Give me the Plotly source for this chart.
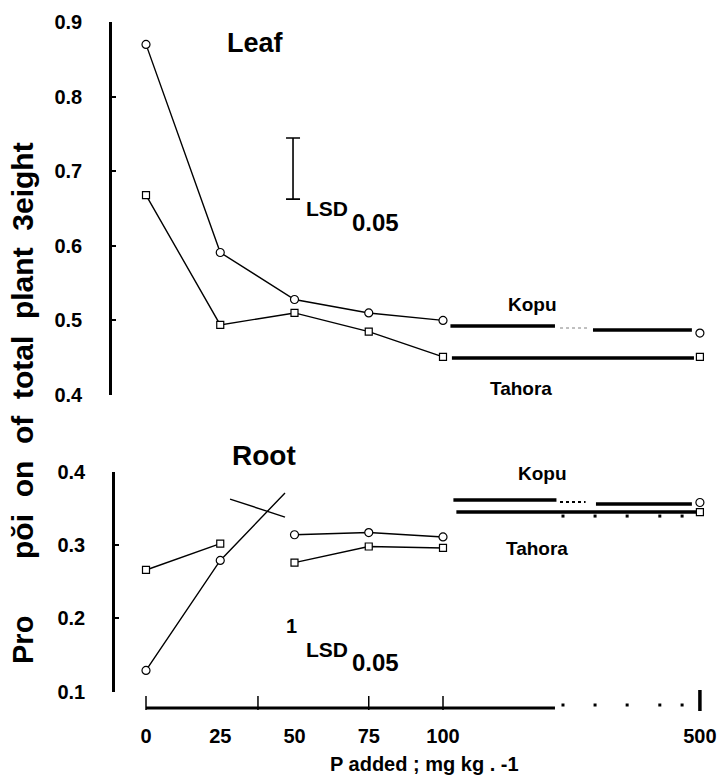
import plotly.graph_objects as go

W, H = 723, 781
FONT = "Liberation Sans, Arial, sans-serif"

# ---------------- data ----------------
p_levels = ["0", "25", "50", "75", "100", "500"]
x_pos = [0, 25, 50, 75, 100, 186.5]          # axis position of each P level (500 sits after the axis break)

leaf_kopu = [0.870, 0.591, 0.528, 0.510, 0.500, 0.483]
leaf_tahora = [0.668, 0.494, 0.510, 0.485, 0.451, 0.451]
root_kopu = [0.129, 0.279, 0.314, 0.317, 0.311, 0.358]
root_tahora = [0.266, 0.302, 0.276, 0.298, 0.296, 0.345]

# plateau levels drawn from 100 to 500 (before / after the break)
leaf_kopu_plateau = [0.4925, 0.4871]
leaf_tahora_plateau = [0.4496, 0.4496]
root_kopu_plateau = [0.3614, 0.3559]
root_tahora_plateau = [0.345, 0.345]

leaf_lsd_centre = 0.7036
leaf_lsd = 0.082

# stray strokes in the root panel (as printed)
root_kopu_overshoot = [46.8, 0.371]
root_stray_x = [28.3, 46.8]
root_stray_y = [0.3627, 0.338]

leaf_ticks = [0.4, 0.5, 0.6, 0.7, 0.8, 0.9]
root_ticks = [0.1, 0.2, 0.3, 0.4]

# axis break geometry (axis units)
BREAK_L, BREAK_R = 137.7, 150.5
PLATEAU_START = 102.5
axis_break_dots = [140.4, 151.2, 162.0, 173.0, 180.5]
x_tick_marks = [0, 37.7, 75, 100]

def px(x):
    return x / W

def py(y):
    return 1 - y / H

fig = go.Figure()
line_style = dict(color="black", width=1.4)
thick = dict(color="black", width=3.6)

def markers(x, y, sym, size, yaxis):
    fig.add_trace(go.Scatter(
        x=x, y=y, mode="markers", xaxis="x", yaxis=yaxis, cliponaxis=False,
        marker=dict(symbol=sym, size=size, color="white",
                    line=dict(color="black", width=1.2)),
        showlegend=False, hoverinfo="skip"))

def lines(x, y, yaxis, style, dash=None):
    st = dict(style)
    if dash:
        st["dash"] = dash
    fig.add_trace(go.Scatter(x=x, y=y, mode="lines", xaxis="x", yaxis=yaxis,
                             line=st, showlegend=False, hoverinfo="skip"))

# ---------------- Leaf panel (y2) ----------------
lines(x_pos[:5], leaf_kopu[:5], "y2", line_style)
lines(x_pos[:5], leaf_tahora[:5], "y2", line_style)
lines([PLATEAU_START, BREAK_L], [leaf_kopu_plateau[0]] * 2, "y2", thick)
lines([BREAK_L + 1.7, BREAK_R - 1], [(leaf_kopu_plateau[0] + leaf_kopu_plateau[1]) / 2] * 2, "y2",
      dict(color="gray", width=1), dash="dot")
lines([BREAK_R, x_pos[5] - 2.7], [leaf_kopu_plateau[1]] * 2, "y2", thick)
lines([PLATEAU_START + 0.5, x_pos[5] - 2], leaf_tahora_plateau, "y2", thick)
markers(x_pos, leaf_kopu, "circle", 8, "y2")
markers(x_pos, leaf_tahora, "square", 7, "y2")

# LSD bar
fig.add_trace(go.Scatter(
    x=[49.5], y=[leaf_lsd_centre], mode="markers", xaxis="x", yaxis="y2",
    marker=dict(size=1, color="rgba(0,0,0,0)"),
    error_y=dict(type="constant", value=leaf_lsd / 2, color="black", thickness=1.6, width=7),
    showlegend=False, hoverinfo="skip"))

# ---------------- Root panel (y) ----------------
lines([x_pos[0], x_pos[1], root_kopu_overshoot[0]], [root_kopu[0], root_kopu[1], root_kopu_overshoot[1]], "y", line_style)
lines(root_stray_x, root_stray_y, "y", line_style)
lines(x_pos[:2], root_tahora[:2], "y", line_style)
lines(x_pos[2:5], root_kopu[2:5], "y", line_style)
lines(x_pos[2:5], root_tahora[2:5], "y", line_style)
lines([PLATEAU_START + 1, BREAK_L + 0.5], [root_kopu_plateau[0]] * 2, "y", thick)
lines([BREAK_L + 1.7, BREAK_R - 2.5], [(root_kopu_plateau[0] + root_kopu_plateau[1]) / 2] * 2, "y",
      dict(color="black", width=2), dash="dot")
lines([BREAK_R + 1, x_pos[5] - 2.7], [root_kopu_plateau[1]] * 2, "y", thick)
lines([PLATEAU_START + 2, x_pos[5]], root_tahora_plateau, "y", thick)
fig.add_trace(go.Scatter(
    x=axis_break_dots, y=[root_tahora_plateau[0] - 0.0055] * len(axis_break_dots),
    mode="markers", xaxis="x", yaxis="y", cliponaxis=False,
    marker=dict(symbol="square", size=3, color="black"), showlegend=False, hoverinfo="skip"))
markers(x_pos, root_kopu, "circle", 8, "y")
markers(x_pos, root_tahora, "square", 7, "y")

# ---------------- broken x axis (y3 is a thin strip holding the axis) ----------------
fig.add_trace(go.Scatter(x=[0, BREAK_L], y=[0, 0], mode="lines", xaxis="x", yaxis="y3",
                         line=dict(color="black", width=3), showlegend=False, hoverinfo="skip"))
fig.add_trace(go.Scatter(x=axis_break_dots, y=[0.3] * len(axis_break_dots), mode="markers",
                         xaxis="x", yaxis="y3", cliponaxis=False,
                         marker=dict(symbol="square", size=3, color="black"),
                         showlegend=False, hoverinfo="skip"))
fig.add_trace(go.Scatter(x=x_tick_marks, y=[0.5] * len(x_tick_marks), mode="markers",
                         xaxis="x", yaxis="y3", cliponaxis=False,
                         marker=dict(symbol="line-ns", size=10, line=dict(color="black", width=1.5)),
                         showlegend=False, hoverinfo="skip"))
fig.add_trace(go.Scatter(x=[x_pos[5]], y=[0.75], mode="markers", xaxis="x", yaxis="y3", cliponaxis=False,
                         marker=dict(symbol="line-ns", size=15, line=dict(color="black", width=3.5)),
                         showlegend=False, hoverinfo="skip"))

# x axis: 0 at px 146, 2.97 px per axis unit
u0 = -146 / 2.97
u1 = (W - 146) / 2.97
tickfont = dict(family=FONT, size=20, color="black")

def bold(vals, fmt):
    return [f"<b>{fmt(v)}</b>" for v in vals]

fig.update_layout(
    width=W, height=H, margin=dict(l=0, r=0, t=0, b=0, autoexpand=False),
    paper_bgcolor="white", plot_bgcolor="rgba(0,0,0,0)",
    font=dict(family=FONT, color="black"),
    xaxis=dict(domain=[0, 1], range=[u0, u1], anchor="free", position=py(708),
               showline=False, showgrid=False, zeroline=False,
               tickvals=x_pos, ticktext=[f"<b>{t}</b>" for t in p_levels], ticks="",
               ticklabelstandoff=14, ticklabeloverflow="allow",
               tickfont=dict(family=FONT, size=20, color="black")),
    yaxis=dict(domain=[py(691.7), py(471.7)], range=[0.1, 0.4], anchor="free", position=px(113),
               showline=True, linecolor="black", linewidth=2.5, showgrid=False, zeroline=False,
               tickvals=root_ticks, ticktext=bold(root_ticks, lambda v: f"{v:.1f}"),
               ticks="inside", ticklen=4, tickwidth=2, tickcolor="black",
               ticklabelstandoff=23, tickfont=tickfont),
    yaxis2=dict(domain=[py(395), py(22)], range=[0.4, 0.9], anchor="free", position=px(110),
                showline=True, linecolor="black", linewidth=2.5, showgrid=False, zeroline=False,
                tickvals=leaf_ticks, ticktext=bold(leaf_ticks, lambda v: f"{v:.1f}"),
                ticks="inside", ticklen=4, tickwidth=2, tickcolor="black",
                ticklabelstandoff=23, tickfont=tickfont),
    yaxis3=dict(domain=[py(718), py(698)], range=[-1, 1], anchor="free", position=0,
                visible=False, fixedrange=True),
)

def label(text, x, y, size, xanchor="center", angle=0):
    fig.add_annotation(text=text, x=px(x), y=py(y), xref="paper", yref="paper",
                       showarrow=False, xanchor=xanchor, yanchor="middle", textangle=angle,
                       font=dict(family=FONT, size=size, color="black"))

label("<b>Leaf</b>", 255, 43, 27)
label("<b>Root</b>", 264, 455, 28)
label("<b>Kopu</b>", 532, 304, 19)
label("<b>Tahora</b>", 521, 388, 19)
label("<b>Kopu</b>", 542, 473, 19)
label("<b>Tahora</b>", 537, 548, 19)
label("<b>LSD</b>", 304, 209, 21, xanchor="left")
label("<b>0.05</b>", 350, 222, 24, xanchor="left")
label("<b>1</b>", 291, 626, 20)
label("<b>LSD</b>", 304, 649, 21, xanchor="left")
label("<b>0.05</b>", 350, 662, 24, xanchor="left")
label("<b>P added ; mg kg . -1</b>", 424, 764, 20)
label("<b>Pro</b>", 23, 640, 29, angle=-90)
label("<b>pŏi  on  of  total  plant  3eight</b>", 23, 351, 30, angle=-90)

# the page's default 8px body margin would push the fixed-size figure off the window
fig.write_html("out.html", config={"displayModeBar": False},
               post_script="document.body.style.margin='0';")
